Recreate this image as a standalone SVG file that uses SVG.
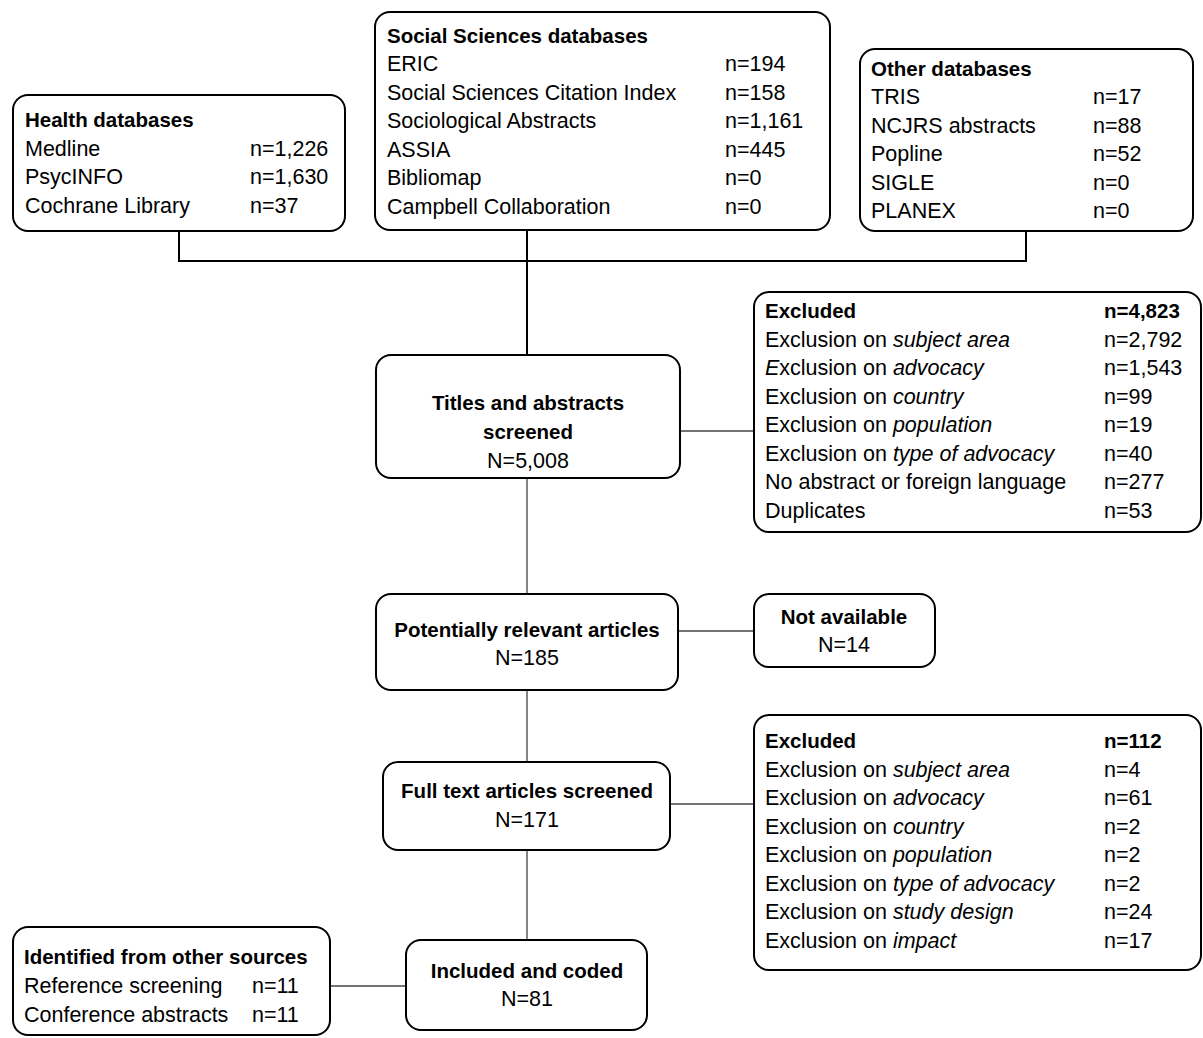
<svg xmlns="http://www.w3.org/2000/svg" width="1203" height="1038" viewBox="0 0 1203 1038">
<style>
.box{fill:#fff;stroke:#000;stroke-width:2}
text{font-family:"Liberation Sans",Arial,sans-serif;font-size:21.5px;fill:#000}
.b{font-weight:bold;font-size:20.5px}
.c{text-anchor:middle}
.top{stroke:#000;stroke-width:2;fill:none}
.ln{stroke:#444;stroke-width:1.3;fill:none}
</style>
<rect width="1203" height="1038" fill="#fff"/>
<g id="connectors">
<polyline class="top" points="179,231 179,261 1026,261 1026,231"/>
<line class="top" x1="527" y1="230" x2="527" y2="355"/>
<line class="ln" x1="527" y1="478" x2="527" y2="594"/>
<line class="ln" x1="680" y1="431" x2="754" y2="431"/>
<line class="ln" x1="678" y1="631" x2="754" y2="631"/>
<line class="ln" x1="527" y1="690" x2="527" y2="762"/>
<line class="ln" x1="670" y1="804" x2="754" y2="804"/>
<line class="ln" x1="527" y1="850" x2="527" y2="940"/>
<line class="ln" x1="331" y1="986" x2="406" y2="986"/>
</g>
<g id="health">
<rect class="box" x="13" y="95" width="332" height="136" rx="15"/>
<text x="25" y="127" class="b">Health databases</text>
<text x="25" y="155.5">Medline</text><text x="250" y="155.5">n=1,226</text>
<text x="25" y="184">PsycINFO</text><text x="250" y="184">n=1,630</text>
<text x="25" y="212.5">Cochrane Library</text><text x="250" y="212.5">n=37</text>
</g>
<g id="social">
<rect class="box" x="375" y="12" width="455" height="218" rx="15"/>
<text x="387" y="43" class="b">Social Sciences databases</text>
<text x="387" y="71">ERIC</text><text x="725" y="71">n=194</text>
<text x="387" y="99.5">Social Sciences Citation Index</text><text x="725" y="99.5">n=158</text>
<text x="387" y="128">Sociological Abstracts</text><text x="725" y="128">n=1,161</text>
<text x="387" y="156.5">ASSIA</text><text x="725" y="156.5">n=445</text>
<text x="387" y="185">Bibliomap</text><text x="725" y="185">n=0</text>
<text x="387" y="213.5">Campbell Collaboration</text><text x="725" y="213.5">n=0</text>
</g>
<g id="other">
<rect class="box" x="860" y="49" width="333" height="182" rx="15"/>
<text x="871" y="75.5" class="b">Other databases</text>
<text x="871" y="104">TRIS</text><text x="1093" y="104">n=17</text>
<text x="871" y="132.5">NCJRS abstracts</text><text x="1093" y="132.5">n=88</text>
<text x="871" y="161">Popline</text><text x="1093" y="161">n=52</text>
<text x="871" y="189.5">SIGLE</text><text x="1093" y="189.5">n=0</text>
<text x="871" y="218">PLANEX</text><text x="1093" y="218">n=0</text>
</g>
<g id="titles">
<rect class="box" x="376" y="355" width="304" height="123" rx="15"/>
<text x="528" y="410" class="b c">Titles and abstracts</text>
<text x="528" y="439" class="b c">screened</text>
<text x="528" y="468" class="c">N=5,008</text>
</g>
<g id="excluded1">
<rect class="box" x="754" y="292" width="447" height="240" rx="15"/>
<text x="765" y="318" class="b">Excluded</text><text x="1104" y="318" class="b">n=4,823</text>
<text x="765" y="346.5">Exclusion on <tspan font-style="italic">subject area</tspan></text><text x="1104" y="346.5">n=2,792</text>
<text x="765" y="375"><tspan font-style="italic">E</tspan>xclusion on <tspan font-style="italic">advocacy</tspan></text><text x="1104" y="375">n=1,543</text>
<text x="765" y="403.5">Exclusion on <tspan font-style="italic">country</tspan></text><text x="1104" y="403.5">n=99</text>
<text x="765" y="432">Exclusion on <tspan font-style="italic">population</tspan></text><text x="1104" y="432">n=19</text>
<text x="765" y="460.5">Exclusion on <tspan font-style="italic">type of advocacy</tspan></text><text x="1104" y="460.5">n=40</text>
<text x="765" y="489">No abstract or foreign language</text><text x="1104" y="489">n=277</text>
<text x="765" y="517.5">Duplicates</text><text x="1104" y="517.5">n=53</text>
</g>
<g id="potential">
<rect class="box" x="376" y="594" width="302" height="96" rx="15"/>
<text x="527" y="637" class="b c">Potentially relevant articles</text>
<text x="527" y="665" class="c">N=185</text>
</g>
<g id="notavailable">
<rect class="box" x="754" y="594" width="181" height="73" rx="15"/>
<text x="844" y="624" class="b c">Not available</text>
<text x="844" y="652" class="c">N=14</text>
</g>
<g id="fulltext">
<rect class="box" x="383" y="762" width="287" height="88" rx="15"/>
<text x="527" y="798" class="b c">Full text articles screened</text>
<text x="527" y="827" class="c">N=171</text>
</g>
<g id="excluded2">
<rect class="box" x="754" y="715" width="447" height="255" rx="15"/>
<text x="765" y="748" class="b">Excluded</text><text x="1104" y="748" class="b">n=112</text>
<text x="765" y="776.5">Exclusion on <tspan font-style="italic">subject area</tspan></text><text x="1104" y="776.5">n=4</text>
<text x="765" y="805">Exclusion on <tspan font-style="italic">advocacy</tspan></text><text x="1104" y="805">n=61</text>
<text x="765" y="833.5">Exclusion on <tspan font-style="italic">country</tspan></text><text x="1104" y="833.5">n=2</text>
<text x="765" y="862">Exclusion on <tspan font-style="italic">population</tspan></text><text x="1104" y="862">n=2</text>
<text x="765" y="890.5">Exclusion on <tspan font-style="italic">type of advocacy</tspan></text><text x="1104" y="890.5">n=2</text>
<text x="765" y="919">Exclusion on <tspan font-style="italic">study design</tspan></text><text x="1104" y="919">n=24</text>
<text x="765" y="947.5">Exclusion on <tspan font-style="italic">impact</tspan></text><text x="1104" y="947.5">n=17</text>
</g>
<g id="included">
<rect class="box" x="406" y="940" width="241" height="90" rx="15"/>
<text x="527" y="978" class="b c">Included and coded</text>
<text x="527" y="1006" class="c">N=81</text>
</g>
<g id="othersources">
<rect class="box" x="13" y="927" width="317" height="108" rx="15"/>
<text x="24" y="963.5" class="b">Identified from other sources</text>
<text x="24" y="993">Reference screening</text><text x="252" y="993">n=11</text>
<text x="24" y="1021.5">Conference abstracts</text><text x="252" y="1021.5">n=11</text>
</g>
</svg>
